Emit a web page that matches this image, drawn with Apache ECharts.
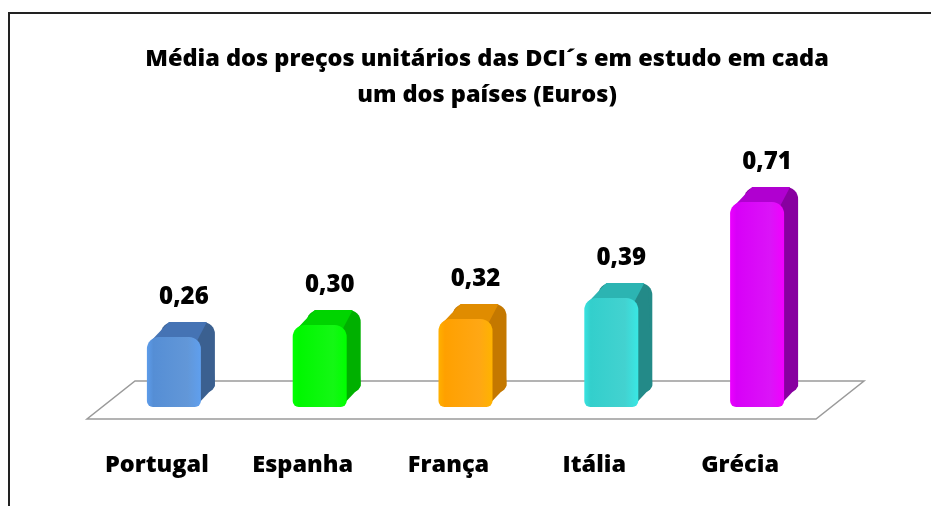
<!doctype html>
<html>
<head>
<meta charset="UTF-8">
<title></title>
<script src="https://cdn.jsdelivr.net/npm/echarts@6/dist/echarts.min.js"></script>
<style>
	html, body { margin: 0; padding: 0; background: #fff; }
	#chart { width: 931px; height: 506px; }
</style>
</head>
<body>
<div id="chart"></div>
<script>
	var paises = ['Portugal', 'Espanha', 'França', 'Itália', 'Grécia'];
	var precos = [0.26, 0.30, 0.32, 0.39, 0.71];
	// cor da face da frente / lado / topo
	var corFrente = ['#558ed5', '#00f800', '#ffa000', '#33cfcc', '#d800f8'];
	var corLado = ['#3b6090', '#00b000', '#c47800', '#238a88', '#8800a0'];
	var corTopo = ['#4573b4', '#00d400', '#e08c00', '#2cb4b2', '#b000d0'];

	var FONTE = '"Open Sans", "DejaVu Sans", sans-serif';
	var PESO = 800;
	var DX = 14, DY = 15, LARG = 54;

	function barra3d(params, api) {
		var i = api.value(0);
		var v = api.value(1);
		var topo = api.coord([i, v]);
		var base = api.coord([i, 0]);
		var cx = topo[0] + 17;
		var xl = cx - LARG / 2, xr = cx + LARG / 2;
		var yT = topo[1] + 8, yB = base[1];
		var grad = new echarts.graphic.LinearGradient(0, 0, 1, 0, [
			{offset: 0, color: echarts.color.lift(corFrente[i], -0.1)},
			{offset: 0.12, color: corFrente[i]},
			{offset: 0.75, color: echarts.color.lift(corFrente[i], 0.08)},
			{offset: 1, color: echarts.color.lift(corFrente[i], -0.12)}
		]);
		return {
			type: 'group',
			children: [{
				type: 'rect',
				shape: {x: xl + DX, y: yT - DY, width: LARG, height: yB - yT, r: [12, 12, 8, 8]},
				style: {fill: corLado[i]}
			}, {
				type: 'polygon',
				shape: {points: [[xr - 4, yT + 4], [xr + DX - 4, yT - DY + 4], [xr + DX, yB - DY - 6], [xr - 2, yB - 4]]},
				style: {fill: corLado[i]}
			}, {
				type: 'polygon',
				shape: {points: [[xl + 4, yT + 4], [xl + DX + 8, yT - DY], [xr + DX - 8, yT - DY], [xr - 4, yT + 4]]},
				style: {fill: corTopo[i]}
			}, {
				type: 'rect',
				shape: {x: xl, y: yT, width: LARG, height: yB - yT, r: [12, 12, 6, 6]},
				style: {fill: grad}
			}, {
				type: 'text',
				style: {
					x: cx + DX / 2 + 3,
					y: yT - DY - 13,
					text: v.toFixed(2).replace('.', ','),
					align: 'center',
					verticalAlign: 'bottom',
					fill: '#000',
					font: PESO + ' 24px ' + FONTE
				}
			}]
		};
	}

	var dados = [];
	for (var k = 0; k < paises.length; k++) {
		dados.push([k, precos[k]]);
	}

	var chart = echarts.init(document.getElementById('chart'));
	chart.setOption({
		animation: false,
		title: {
			text: 'Média dos preços unitários das DCI´s em estudo em cada\num dos países (Euros)',
			left: 482,
			top: 36,
			textAlign: 'center',
			textStyle: {
				fontFamily: FONTE,
				fontWeight: PESO,
				fontSize: 23.5,
				lineHeight: 36,
				color: '#000'
			}
		},
		graphic: [{
			type: 'polyline',
			shape: {points: [[9, 506], [9, 13], [931, 13]]},
			style: {stroke: '#222', lineWidth: 2, fill: null},
			z: 0
		}, {
			type: 'polygon',
			shape: {points: [[135, 381], [864, 381], [816, 419], [87, 419]]},
			style: {stroke: '#9a9a9a', lineWidth: 1.5, fill: '#fff'},
			z: 0
		}],
		grid: {left: 84, width: 729, top: 167, bottom: 99},
		xAxis: {
			type: 'category',
			data: paises,
			axisLine: {show: false},
			axisTick: {show: false},
			axisLabel: {
				margin: 46,
				fontFamily: FONTE,
				fontWeight: PESO,
				fontSize: 23.5,
				color: '#000'
			}
		},
		yAxis: {
			type: 'value',
			min: 0,
			max: 0.8,
			show: false,
			splitLine: {show: false}
		},
		series: [{
			type: 'custom',
			renderItem: barra3d,
			data: dados,
			z: 5
		}]
	});
</script>
</body>
</html>
